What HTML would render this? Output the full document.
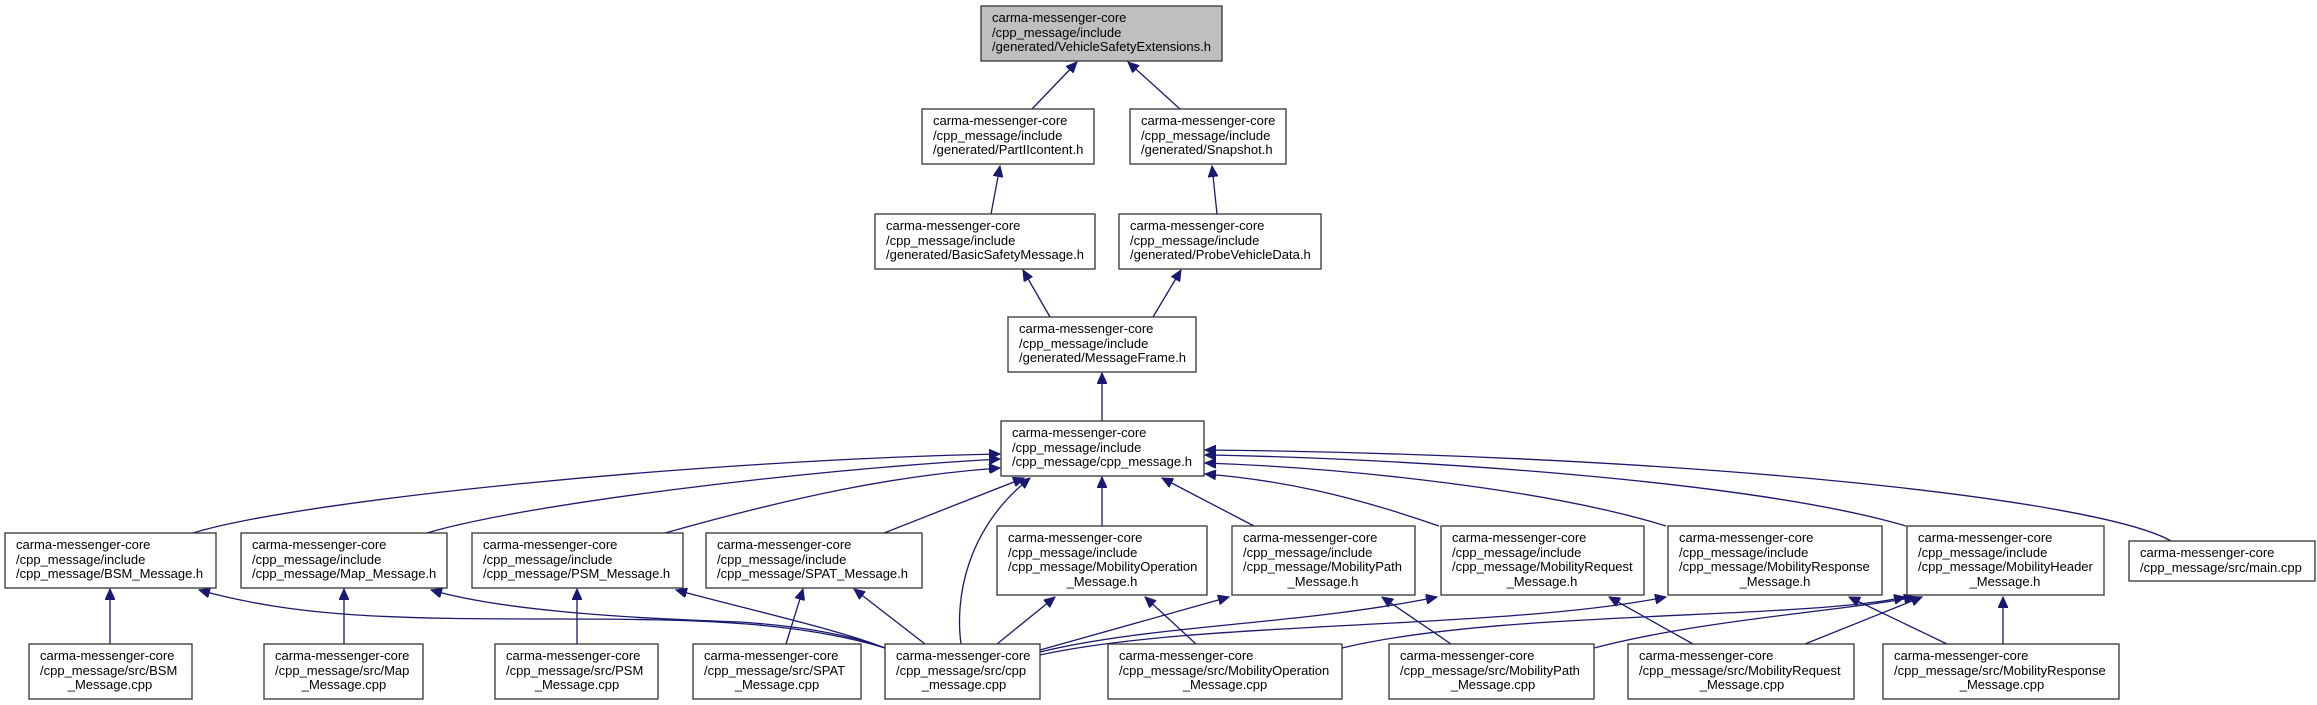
<!DOCTYPE html>
<html><head><meta charset="utf-8"><style>
html,body{margin:0;padding:0;background:#fff;}
svg{display:block;}
text{font-family:"Liberation Sans",Arial,sans-serif;font-size:13px;fill:#000;}
.b{fill:#fff;stroke:#333;stroke-width:1.3;}
.e{fill:none;stroke:#191970;stroke-width:1.3;marker-end:url(#a);}
</style></head><body>
<svg width="2317" height="705" viewBox="0 0 2317 705" xmlns="http://www.w3.org/2000/svg">
<defs><marker id="a" markerWidth="12" markerHeight="10" refX="11" refY="5" orient="auto" markerUnits="userSpaceOnUse"><path d="M0,0 L11,5 L0,10 z" fill="#191970" stroke="#191970"/></marker></defs>

<!-- edges -->
<path class="e" d="M1032,109 L1077,62"/>
<path class="e" d="M1180,109 L1128,62"/>
<path class="e" d="M991,214 L1000,166"/>
<path class="e" d="M1217,214 L1212,166"/>
<path class="e" d="M1050,317 L1023,270"/>
<path class="e" d="M1153,317 L1181,270"/>
<path class="e" d="M1102,421 L1102,373"/>
<path class="e" d="M193,533 C300,500 700,460 1000,454"/>
<path class="e" d="M427,533 C520,505 800,470 1000,459"/>
<path class="e" d="M665,533 C800,495 900,475 1000,468"/>
<path class="e" d="M884,533 L1024,478"/>
<path class="e" d="M961,644 C955,600 965,530 1030,478"/>
<path class="e" d="M1102,526 L1102,477"/>
<path class="e" d="M1254,526 L1162,478"/>
<path class="e" d="M1439,526 C1350,495 1280,480 1205,474"/>
<path class="e" d="M1666,526 C1550,490 1350,468 1205,463"/>
<path class="e" d="M1906,526 C1750,480 1400,458 1205,455"/>
<path class="e" d="M2171,541 C2100,500 1700,455 1205,450"/>
<path class="e" d="M110,644 L110,589"/>
<path class="e" d="M344,644 L344,589"/>
<path class="e" d="M577,644 L577,589"/>
<path class="e" d="M885,648 C800,622 700,619 560,619 C400,619 300,618 199,590"/>
<path class="e" d="M885,648 C850,635 800,626 740,622 C620,618 500,610 431,590"/>
<path class="e" d="M885,648 C840,630 750,610 676,590"/>
<path class="e" d="M786,644 L803,589"/>
<path class="e" d="M925,644 L854,589"/>
<path class="e" d="M997,644 L1055,597"/>
<path class="e" d="M1196,644 L1145,597"/>
<path class="e" d="M1040,650 L1229,597"/>
<path class="e" d="M1040,652 C1150,625 1300,625 1437,597"/>
<path class="e" d="M1040,655 C1200,620 1500,630 1666,597"/>
<path class="e" d="M1342,648 C1500,610 1800,620 1905,597"/>
<path class="e" d="M1594,648 C1700,620 1850,610 1915,597"/>
<path class="e" d="M1805,644 L1922,597"/>
<path class="e" d="M2003,644 L2003,597"/>
<path class="e" d="M1451,644 L1382,597"/>
<path class="e" d="M1693,644 L1609,597"/>
<path class="e" d="M1947,644 L1849,597"/>

<!-- nodes -->
<rect x="981" y="6" width="241" height="55" fill="#bfbfbf" stroke="#333" stroke-width="1.3"/>
<text x="992" y="22">carma-messenger-core</text><text x="992" y="37">/cpp_message/include</text><text x="992" y="51">/generated/VehicleSafetyExtensions.h</text>

<rect class="b" x="922" y="109" width="172" height="55"/>
<text x="933" y="125">carma-messenger-core</text><text x="933" y="140">/cpp_message/include</text><text x="933" y="154">/generated/PartIIcontent.h</text>
<rect class="b" x="1130" y="109" width="156" height="55"/>
<text x="1141" y="125">carma-messenger-core</text><text x="1141" y="140">/cpp_message/include</text><text x="1141" y="154">/generated/Snapshot.h</text>

<rect class="b" x="875" y="214" width="220" height="55"/>
<text x="886" y="230">carma-messenger-core</text><text x="886" y="245">/cpp_message/include</text><text x="886" y="259">/generated/BasicSafetyMessage.h</text>
<rect class="b" x="1119" y="214" width="202" height="55"/>
<text x="1130" y="230">carma-messenger-core</text><text x="1130" y="245">/cpp_message/include</text><text x="1130" y="259">/generated/ProbeVehicleData.h</text>

<rect class="b" x="1008" y="317" width="188" height="55"/>
<text x="1019" y="333">carma-messenger-core</text><text x="1019" y="348">/cpp_message/include</text><text x="1019" y="362">/generated/MessageFrame.h</text>

<rect class="b" x="1001" y="421" width="203" height="55"/>
<text x="1012" y="437">carma-messenger-core</text><text x="1012" y="452">/cpp_message/include</text><text x="1012" y="466">/cpp_message/cpp_message.h</text>

<rect class="b" x="5" y="533" width="211" height="55"/>
<text x="16" y="549">carma-messenger-core</text><text x="16" y="564">/cpp_message/include</text><text x="16" y="578">/cpp_message/BSM_Message.h</text>
<rect class="b" x="241" y="533" width="206" height="55"/>
<text x="252" y="549">carma-messenger-core</text><text x="252" y="564">/cpp_message/include</text><text x="252" y="578">/cpp_message/Map_Message.h</text>
<rect class="b" x="472" y="533" width="211" height="55"/>
<text x="483" y="549">carma-messenger-core</text><text x="483" y="564">/cpp_message/include</text><text x="483" y="578">/cpp_message/PSM_Message.h</text>
<rect class="b" x="706" y="533" width="216" height="55"/>
<text x="717" y="549">carma-messenger-core</text><text x="717" y="564">/cpp_message/include</text><text x="717" y="578">/cpp_message/SPAT_Message.h</text>

<rect class="b" x="997" y="526" width="210" height="69"/>
<text x="1008" y="542">carma-messenger-core</text><text x="1008" y="557">/cpp_message/include</text><text x="1008" y="571">/cpp_message/MobilityOperation</text><text x="1102" y="586" text-anchor="middle">_Message.h</text>
<rect class="b" x="1232" y="526" width="183" height="69"/>
<text x="1243" y="542">carma-messenger-core</text><text x="1243" y="557">/cpp_message/include</text><text x="1243" y="571">/cpp_message/MobilityPath</text><text x="1323" y="586" text-anchor="middle">_Message.h</text>
<rect class="b" x="1441" y="526" width="203" height="69"/>
<text x="1452" y="542">carma-messenger-core</text><text x="1452" y="557">/cpp_message/include</text><text x="1452" y="571">/cpp_message/MobilityRequest</text><text x="1542" y="586" text-anchor="middle">_Message.h</text>
<rect class="b" x="1668" y="526" width="214" height="69"/>
<text x="1679" y="542">carma-messenger-core</text><text x="1679" y="557">/cpp_message/include</text><text x="1679" y="571">/cpp_message/MobilityResponse</text><text x="1775" y="586" text-anchor="middle">_Message.h</text>
<rect class="b" x="1907" y="526" width="197" height="69"/>
<text x="1918" y="542">carma-messenger-core</text><text x="1918" y="557">/cpp_message/include</text><text x="1918" y="571">/cpp_message/MobilityHeader</text><text x="2005" y="586" text-anchor="middle">_Message.h</text>
<rect class="b" x="2129" y="541" width="186" height="40"/>
<text x="2140" y="557">carma-messenger-core</text><text x="2140" y="572">/cpp_message/src/main.cpp</text>

<rect class="b" x="29" y="644" width="163" height="55"/>
<text x="40" y="660">carma-messenger-core</text><text x="40" y="675">/cpp_message/src/BSM</text><text x="110" y="689" text-anchor="middle">_Message.cpp</text>
<rect class="b" x="264" y="644" width="159" height="55"/>
<text x="275" y="660">carma-messenger-core</text><text x="275" y="675">/cpp_message/src/Map</text><text x="344" y="689" text-anchor="middle">_Message.cpp</text>
<rect class="b" x="495" y="644" width="163" height="55"/>
<text x="506" y="660">carma-messenger-core</text><text x="506" y="675">/cpp_message/src/PSM</text><text x="577" y="689" text-anchor="middle">_Message.cpp</text>
<rect class="b" x="693" y="644" width="168" height="55"/>
<text x="704" y="660">carma-messenger-core</text><text x="704" y="675">/cpp_message/src/SPAT</text><text x="777" y="689" text-anchor="middle">_Message.cpp</text>
<rect class="b" x="885" y="644" width="155" height="55"/>
<text x="896" y="660">carma-messenger-core</text><text x="896" y="675">/cpp_message/src/cpp</text><text x="964" y="689" text-anchor="middle">_message.cpp</text>
<rect class="b" x="1108" y="644" width="234" height="55"/>
<text x="1119" y="660">carma-messenger-core</text><text x="1119" y="675">/cpp_message/src/MobilityOperation</text><text x="1225" y="689" text-anchor="middle">_Message.cpp</text>
<rect class="b" x="1389" y="644" width="205" height="55"/>
<text x="1400" y="660">carma-messenger-core</text><text x="1400" y="675">/cpp_message/src/MobilityPath</text><text x="1493" y="689" text-anchor="middle">_Message.cpp</text>
<rect class="b" x="1628" y="644" width="226" height="55"/>
<text x="1639" y="660">carma-messenger-core</text><text x="1639" y="675">/cpp_message/src/MobilityRequest</text><text x="1742" y="689" text-anchor="middle">_Message.cpp</text>
<rect class="b" x="1883" y="644" width="236" height="55"/>
<text x="1894" y="660">carma-messenger-core</text><text x="1894" y="675">/cpp_message/src/MobilityResponse</text><text x="2002" y="689" text-anchor="middle">_Message.cpp</text>
</svg>
</body></html>
